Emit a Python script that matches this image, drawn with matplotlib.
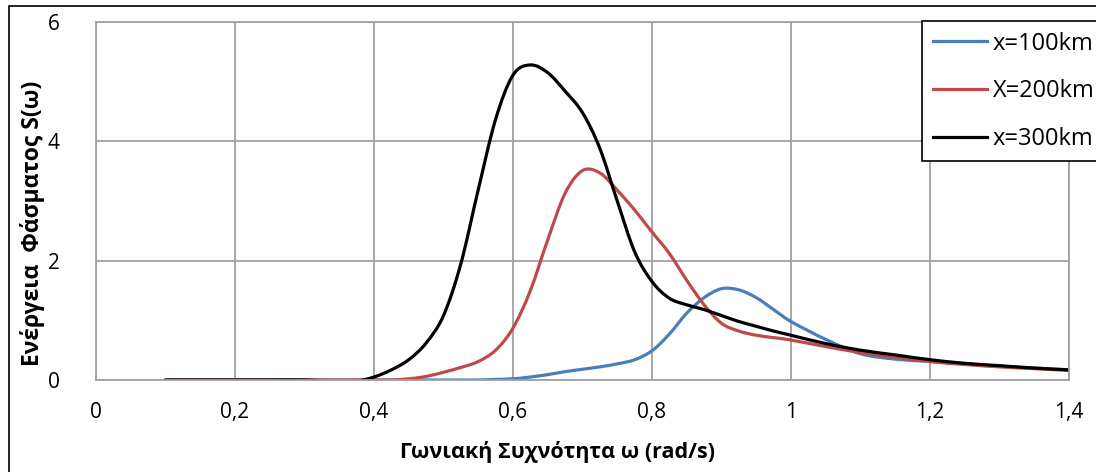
import numpy as np
import matplotlib
matplotlib.use('Agg')
import matplotlib.pyplot as plt
from matplotlib.patches import Rectangle, PathPatch
from matplotlib.path import Path

plt.rcParams['font.family'] = ['Open Sans', 'DejaVu Sans']

# frequency grid (rad/s)
w = [0.1, 0.15, 0.2, 0.25, 0.3, 0.35, 0.375, 0.4, 0.425, 0.45, 0.475,
     0.5, 0.525, 0.55, 0.575, 0.6, 0.625, 0.65, 0.675, 0.7, 0.725, 0.75,
     0.775, 0.8, 0.825, 0.85, 0.875, 0.9, 0.925, 0.95, 0.975, 1.0,
     1.05, 1.1, 1.15, 1.2, 1.25, 1.3, 1.35, 1.4]

s_100 = [0, 0, 0, 0, 0, 0, 0, 0, 0, 0, 0,
         0, 0, 0, 0.01, 0.02, 0.05, 0.09, 0.14, 0.18, 0.22, 0.27,
         0.34, 0.49, 0.77, 1.12, 1.38, 1.53, 1.51, 1.38, 1.18, 0.98,
         0.68, 0.44, 0.35, 0.31, 0.27, 0.23, 0.2, 0.17]

s_200 = [0, 0, 0, 0, 0, 0, 0, 0, 0, 0.02, 0.06,
         0.13, 0.21, 0.31, 0.5, 0.87, 1.5, 2.35, 3.13, 3.51, 3.47, 3.18,
         2.85, 2.48, 2.12, 1.67, 1.26, 0.95, 0.82, 0.75, 0.71, 0.67,
         0.56, 0.46, 0.38, 0.31, 0.26, 0.22, 0.19, 0.16]

s_300 = [0, 0, 0, 0, 0, -0.03, -0.02, 0.05, 0.17, 0.34, 0.62,
         1.08, 1.95, 3.19, 4.37, 5.11, 5.28, 5.15, 4.84, 4.48, 3.88, 3.0,
         2.15, 1.65, 1.37, 1.26, 1.18, 1.08, 0.98, 0.9, 0.82, 0.75,
         0.61, 0.5, 0.42, 0.34, 0.28, 0.24, 0.2, 0.17]

labels = ['x=100km', 'X=200km', 'x=300km']
colors = ['#4a7ebb', '#be4b48', 'black']


def smooth_path(xs, ys):
    # excel-style smoothed line: cubic bezier segments through the points
    p = np.column_stack([xs, ys]).astype(float)
    verts = [p[0]]
    codes = [Path.MOVETO]
    n = len(p)
    for i in range(n - 1):
        p0 = p[max(i - 1, 0)]
        p3 = p[min(i + 2, n - 1)]
        c1 = p[i] + (p[i + 1] - p0) / 6
        c2 = p[i + 1] - (p3 - p[i]) / 6
        verts += [c1, c2, p[i + 1]]
        codes += [Path.CURVE4] * 3
    return Path(verts, codes)


W, H = 1096, 472
fig = plt.figure(figsize=(W / 100, H / 100), dpi=100)
ax = fig.add_axes([96 / W, 1 - 380 / H, (1069 - 96) / W, (380 - 22) / H])

for ys, c, lab in zip([s_100, s_200, s_300], colors, labels):
    ax.add_patch(PathPatch(smooth_path(w, ys), fill=False, edgecolor=c,
                           lw=2.3, capstyle='round', joinstyle='round'))
    ax.plot([], [], color=c, lw=2.3, label=lab)

ax.set_xlim(0, 1.4)
ax.set_ylim(0, 6)
ax.set_xticks(np.arange(0, 1.41, 0.2))
ax.set_yticks([0, 2, 4, 6])
ax.set_xticklabels(['0', '0,2', '0,4', '0,6', '0,8', '1', '1,2', '1,4'])
ax.set_yticklabels(['0', '2', '4', '6'])
ax.tick_params(length=0, labelsize=15, pad=16)
ax.tick_params(axis='y', pad=26)
ax.grid(True, color='#a0a0a0', lw=1.3)
ax.set_axisbelow(True)
for sp in ax.spines.values():
    sp.set_color('#a0a0a0')
    sp.set_linewidth(1.3)

fig.text(557 / W, 1 - 452 / H, 'Γωνιακή Συχνότητα ω (rad/s)', fontsize=15.5,
         fontweight='bold', ha='center', va='center')
fig.text(33 / W, 1 - 223 / H, 'Ενέργεια  Φάσματος S(ω)', fontsize=16.5,
         fontweight='bold', ha='center', va='center', rotation=90)

leg = ax.legend(loc='upper left', bbox_to_anchor=(922 / W, 1 - 21 / H),
                bbox_transform=fig.transFigure, fontsize=17, frameon=True,
                fancybox=False, edgecolor='black', handlelength=2.3,
                handletextpad=0.25, labelspacing=1.0, borderpad=0.45,
                borderaxespad=0)
leg.get_frame().set_linewidth(1.2)
leg.get_frame().set_alpha(1)

fig.patches.append(Rectangle((9 / W, -0.1), 1.2, 1 - 6 / H + 0.1,
                             transform=fig.transFigure, fill=False,
                             edgecolor='black', lw=1.2))

fig.savefig('out.png', dpi=100)
